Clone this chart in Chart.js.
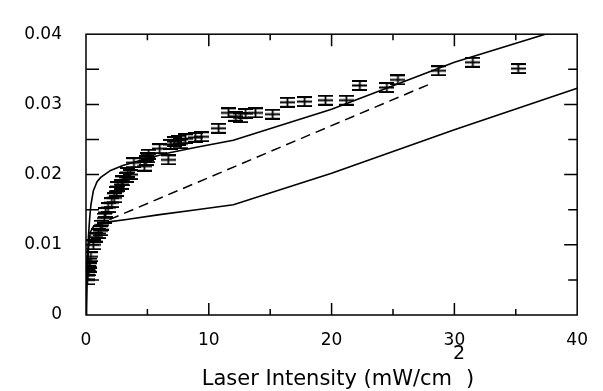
<!DOCTYPE html>
<html>
<head>
<meta charset="utf-8">
<script src="https://cdn.jsdelivr.net/npm/chart.js@4"></script>
<style>
  html, body { margin: 0; padding: 0; background: #fff; }
  #wrap { width: 603px; height: 391px; }
</style>
</head>
<body>
<div id="wrap"><canvas id="chart" width="603" height="391"></canvas></div>
<script>
// Measured points (laser intensity, signal)
const dataX = [0.1, 0.15, 0.2, 0.3, 0.3, 0.4, 0.6, 0.8, 1.0, 1.2, 1.3, 1.5, 1.6, 1.8, 2.1, 2.3, 2.5, 2.6, 2.9, 3.0,
  3.3, 3.4, 3.6, 3.9, 4.75, 4.9, 5.0, 5.1, 6.0, 6.7, 6.9, 7.2, 7.5, 7.7, 8.1, 8.9, 9.4, 10.8, 11.6, 12.2,
  12.6, 13.0, 13.8, 15.2, 16.4, 17.8, 19.5, 21.2, 22.3, 24.5, 25.4, 28.7, 31.5, 35.2];
const dataY = [0.0050, 0.0057, 0.0063, 0.0068, 0.0074, 0.0083, 0.0100, 0.0111, 0.0116, 0.0120, 0.0128, 0.0138, 0.0146, 0.0153, 0.0160, 0.0167, 0.0176, 0.0183, 0.0186, 0.0191,
  0.0196, 0.0203, 0.0200, 0.0217, 0.0212, 0.0220, 0.0224, 0.0229, 0.0237, 0.0221, 0.0243, 0.0247, 0.0249, 0.0244, 0.0251, 0.0253, 0.0254, 0.0266, 0.0288, 0.0283,
  0.0281, 0.0287, 0.0288, 0.0286, 0.0303, 0.0304, 0.0306, 0.0306, 0.0327, 0.0324, 0.0335, 0.0348, 0.0360, 0.0351];

// Model curves
const upperX = [0, 0.05, 0.1, 0.2, 0.3, 0.4, 0.6, 0.9, 1.2, 2, 3, 4.4, 6.5, 9, 12, 20, 30, 40];
const upperY = [0, 0.004, 0.007, 0.0112, 0.0138, 0.0157, 0.0177, 0.0190, 0.0196, 0.0206, 0.0213, 0.0220, 0.0230, 0.0239, 0.0249, 0.0293, 0.0360, 0.0414];
const lowerX = [0, 0.1, 0.2, 0.35, 0.6, 1, 2, 3.3, 6, 9, 12, 20, 30, 40];
const lowerY = [0, 0.0055, 0.0095, 0.0118, 0.0126, 0.0129, 0.0133, 0.0136, 0.0143, 0.0150, 0.0157, 0.0202, 0.0264, 0.0323];
const dashX = [0.7, 28];
const dashY = [0.0127, 0.0329];

// Axis ticks
const xTickValues = [0, 10, 20, 30, 40];
const yTickLabels = ['0', '0.01', '0.02', '0.03', '0.04'];

const pts = (xs, ys) => xs.map((x, i) => ({ x: x, y: ys[i] }));

// error bar glyph used as point style
const bar = document.createElement('canvas');
bar.width = 15;
bar.height = 11;
const bctx = bar.getContext('2d');
bctx.strokeStyle = '#000';
bctx.lineWidth = 1.8;
bctx.beginPath();
bctx.moveTo(0, 1); bctx.lineTo(15, 1);
bctx.moveTo(0, 10); bctx.lineTo(15, 10);
bctx.moveTo(0, 5.5); bctx.lineTo(15, 5.5);
bctx.moveTo(7.5, 1); bctx.lineTo(7.5, 10);
bctx.stroke();

const FONT = 'DejaVu Sans';

// frame, inward ticks, axis title
const framePlugin = {
  id: 'frame',
  afterDraw(chart) {
    const { ctx, chartArea: a, scales } = chart;
    ctx.save();
    ctx.strokeStyle = '#000';
    ctx.lineWidth = 1.5;
    ctx.strokeRect(a.left, a.top, a.right - a.left, a.bottom - a.top);
    ctx.beginPath();
    for (let v = 5; v < 40; v += 5) {
      const px = scales.x.getPixelForValue(v);
      const len = v % 10 === 0 ? 12 : 6;
      ctx.moveTo(px, a.bottom); ctx.lineTo(px, a.bottom - len);
      ctx.moveTo(px, a.top); ctx.lineTo(px, a.top + len);
    }
    for (let k = 1; k < 8; k++) {
      const py = scales.y.getPixelForValue(k * 0.005);
      const len = k % 2 === 0 ? 13 : 9;
      ctx.moveTo(a.left, py); ctx.lineTo(a.left + 13, py);
      ctx.moveTo(a.right, py); ctx.lineTo(a.right - len, py);
    }
    ctx.stroke();

    // x axis title with superscript
    const main = 'Laser Intensity (mW/cm';
    const big = '21px "' + FONT + '"';
    const sup = '19px "' + FONT + '"';
    ctx.fillStyle = '#000';
    ctx.textBaseline = 'alphabetic';
    ctx.font = big;
    const w1 = ctx.measureText(main).width;
    const w3 = ctx.measureText(')').width;
    ctx.font = sup;
    const w2 = ctx.measureText('2').width;
    const total = w1 + w2 + 2 + w3;
    const x0 = 338 - total / 2;
    ctx.font = big;
    ctx.fillText(main, x0, 385);
    ctx.fillText(')', x0 + w1 + w2 + 2, 385);
    ctx.font = sup;
    ctx.fillText('2', x0 + w1 + 1, 359);
    ctx.restore();
  }
};

new Chart(document.getElementById('chart').getContext('2d'), {
  type: 'scatter',
  data: {
    datasets: [
      {
        data: pts(dataX, dataY),
        pointStyle: bar,
        pointRadius: 7,
        pointHoverRadius: 7,
        showLine: false
      },
      {
        data: pts(upperX, upperY),
        showLine: true,
        borderColor: '#000',
        borderWidth: 1.6,
        pointRadius: 0,
        tension: 0
      },
      {
        data: pts(lowerX, lowerY),
        showLine: true,
        borderColor: '#000',
        borderWidth: 1.6,
        pointRadius: 0,
        tension: 0
      },
      {
        data: pts(dashX, dashY),
        showLine: true,
        borderColor: '#000',
        borderWidth: 1.5,
        borderDash: [10, 6],
        pointRadius: 0
      }
    ]
  },
  options: {
    responsive: false,
    animation: false,
    events: [],
    layout: { padding: { left: 0, top: 15, right: 20, bottom: 0 } },
    plugins: {
      legend: { display: false },
      tooltip: { enabled: false }
    },
    scales: {
      x: {
        type: 'linear',
        min: 0,
        max: 40,
        afterFit: s => { s.height = 76; },
        afterBuildTicks: s => { s.ticks = xTickValues.map(v => ({ value: v })); },
        grid: { display: false, drawTicks: false },
        border: { display: false },
        ticks: {
          padding: 15,
          color: '#000',
          font: { family: FONT, size: 17 },
          maxRotation: 0
        }
      },
      y: {
        type: 'linear',
        min: 0,
        max: 0.04,
        afterFit: s => { s.width = 86; },
        afterBuildTicks: s => { s.ticks = yTickLabels.map((t, i) => ({ value: i * 0.01 })); },
        grid: { display: false, drawTicks: false },
        border: { display: false },
        ticks: {
          padding: 24,
          color: '#000',
          font: { family: FONT, size: 17 },
          callback: (v, i) => yTickLabels[i]
        }
      }
    }
  },
  plugins: [framePlugin]
});
</script>
</body>
</html>
